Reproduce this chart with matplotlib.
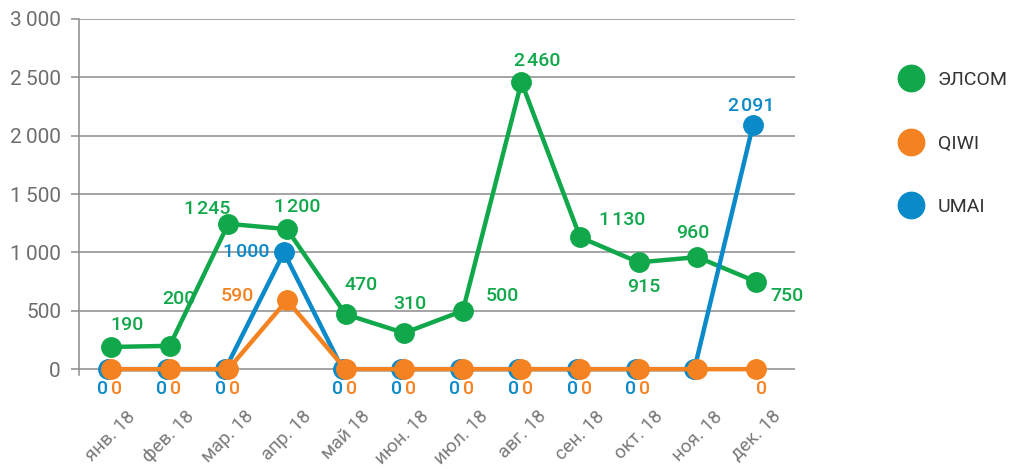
import matplotlib
matplotlib.use('Agg')
import matplotlib.pyplot as plt
from matplotlib.lines import Line2D
from matplotlib.transforms import ScaledTranslation

plt.rcParams['font.family'] = ['Roboto', 'DejaVu Sans']

months = ['янв. 18', 'фев. 18', 'мар. 18', 'апр. 18', 'май 18', 'июн. 18',
          'июл. 18', 'авг. 18', 'сен. 18', 'окт. 18', 'ноя. 18', 'дек. 18']
elsom = [190, 200, 1245, 1200, 470, 310, 500, 2460, 1130, 915, 960, 750]
qiwi = [0, 0, 0, 590, 0, 0, 0, 0, 0, 0, 0, 0]
umai = [0, 0, 0, 1000, 0, 0, 0, 0, 0, 0, 0, 2091]
series_names = ['ЭЛСОМ', 'QIWI', 'UMAI']
yticks = [0, 500, 1000, 1500, 2000, 2500, 3000]

GREEN = '#10a84a'
ORANGE = '#f58220'
BLUE = '#0a8ac8'

# label offsets in pixels (dx right, dy down); None = no label
elsom_off = [(16, -22), (9, -47), (-21, -15), (10, -22), (16, -29), (6, -29),
             (40, -15), (16, -21), (42, -17), (5, 25), (-5, -24), (31, 14)]
qiwi_off = [(6, 20)] * 3 + [(-50, -4)] + [(6, 20)] * 6 + [None, (6, 20)]
umai_off = [(-8, 20)] * 3 + [(-41, 0)] + [(-8, 20)] * 6 + [None, (-5, -19)]

DPI = 100
fig = plt.figure(figsize=(10.16, 4.69), dpi=DPI)
ax = fig.add_axes([79 / 1016, 1 - 375 / 469, (795 - 79) / 1016, (375 - 19) / 469])

x = list(range(len(months)))


def fmt(v, sep='\u200a'):
    return f'{v:,}'.replace(',', sep)


def plot_series(vals, color, offs, z, shift_px=0):
    tr = ax.transData + ScaledTranslation(shift_px / DPI, 0, fig.dpi_scale_trans)
    ax.plot(x, vals, color=color, lw=3.2, marker='o', ms=14, zorder=z,
            clip_on=False, transform=tr, solid_capstyle='round')
    for xi, v, o in zip(x, vals, offs):
        if o is None:
            continue
        ax.annotate(fmt(v), (xi, v), xytext=(o[0] * 0.72, -o[1] * 0.72),
                    textcoords='offset points', ha='center', va='center',
                    color=color, fontsize=14, fontweight='medium', zorder=10,
                    annotation_clip=False)


plot_series(elsom, GREEN, elsom_off, 3)
plot_series(umai, BLUE, umai_off, 4, shift_px=-3)
plot_series(qiwi, ORANGE, qiwi_off, 5)

ax.set_xlim(-0.546, 11.665)
ax.set_ylim(-50, 3000)
ax.set_yticks(yticks)
ax.set_yticklabels([fmt(v, '\u2009') for v in yticks])
ax.yaxis.grid(True, color='#8c8c8c', lw=1.1)
ax.set_axisbelow(True)
for s in ['top', 'right', 'bottom']:
    ax.spines[s].set_visible(False)
ax.spines['left'].set_color('#8c8c8c')
ax.spines['left'].set_linewidth(1.1)
ax.tick_params(axis='y', length=6, width=1.1, color='#8c8c8c', pad=7,
               labelsize=15, labelcolor='#6e6e6e')

ax.set_xticks(x)
ax.set_xticklabels(months, rotation=45, ha='right', va='center',
                   rotation_mode='anchor')
ax.tick_params(axis='x', length=0, pad=28, labelsize=13.5, labelcolor='#7a7a7a')
for lbl in ax.get_xticklabels():
    lbl.set_transform(lbl.get_transform() + ScaledTranslation(22 / DPI, 0, fig.dpi_scale_trans))

handles = [Line2D([], [], ls='none', marker='o', ms=19, color=c)
           for c in (GREEN, ORANGE, BLUE)]
fig.legend(handles, series_names, loc='center left',
           bbox_to_anchor=(897 / 1016, 1 - 143.5 / 469), frameon=False,
           fontsize=14, labelcolor='#333333', handlelength=1.4,
           handletextpad=0.7, labelspacing=2.35, borderpad=0, borderaxespad=0)

fig.savefig('out.png', dpi=DPI)
